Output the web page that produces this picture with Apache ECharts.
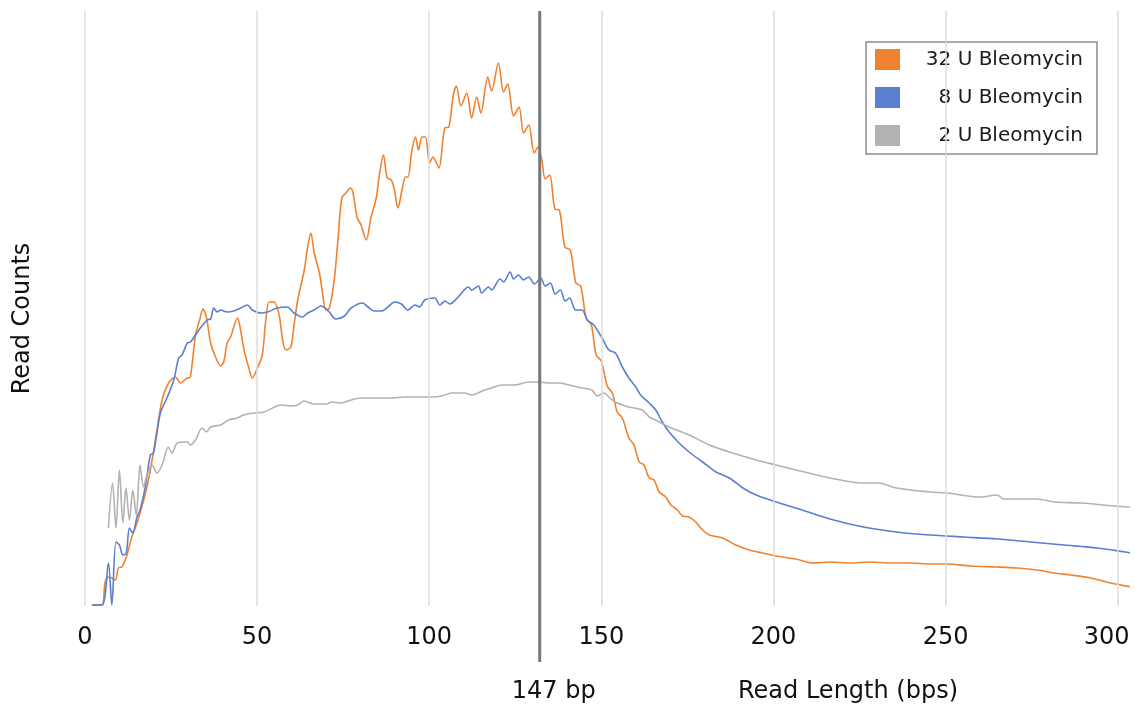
<!DOCTYPE html>
<html>
<head>
<meta charset="utf-8">
<title>Read length distribution</title>
<script src="https://cdn.jsdelivr.net/npm/echarts@6/dist/echarts.min.js"></script>
<style>
  html, body { margin: 0; padding: 0; background: #fff; }
  #main { width: 1135px; height: 713px; }
</style>
</head>
<body>
<div id="main"></div>
<script>
// x tick values (bp) and the reference fragment line
const tickValues = [0, 50, 100, 150, 200, 250, 300];
const refLength = 132.1;
const refLabel = '147 bp';

const seriesNames = ['32 U Bleomycin', '8 U Bleomycin', '2 U Bleomycin'];

// 32 U Bleomycin
const len32 = [2.0, 4.9, 5.8, 6.8, 7.8, 8.8, 9.7, 10.7, 12.2, 13.6, 15.1, 16.5, 18.0, 19.5, 20.9, 22.4, 24.3, 26.3, 27.7, 29.7,
  30.6, 32.1, 33.3, 34.3, 35.3, 36.5, 37.9, 39.4, 40.3, 41.3, 42.3, 44.3, 45.2, 46.2, 47.6, 48.6, 50.1, 51.5, 52.5, 53.5,
  54.9, 56.4, 57.4, 58.3, 59.8, 60.8, 61.8, 63.7, 64.7, 65.6, 66.6, 68.1, 69.0, 70.0, 71.0, 72.4, 73.4, 74.6, 75.8, 77.1,
  77.8, 79.1, 80.2, 81.7, 83.1, 84.6, 85.6, 86.7, 87.8, 89.0, 89.9, 90.9, 92.1, 93.1, 93.8, 95.0, 96.0, 96.9, 97.9, 98.9,
  100.1, 101.1, 102.8, 104.5, 105.7, 107.0, 107.9, 109.2, 110.9, 112.3, 113.8, 115.0, 117.0, 118.1, 120.1, 121.6, 122.8, 124.5, 126.1, 127.4,
  128.9, 130.5, 131.6, 132.7, 133.7, 135.0, 136.5, 137.8, 139.4, 141.0, 142.6, 144.0, 145.6, 147.1, 148.5, 150.0, 151.7, 153.2, 154.6, 156.1,
  158.0, 159.5, 161.0, 162.4, 163.9, 165.3, 166.8, 168.7, 170.2, 172.1, 173.6, 175.5, 177.4, 179.4, 181.4, 185.2, 189.1, 193.0, 196.9, 200.8,
  206.5, 211.5, 216.4, 222.2, 228.0, 233.9, 239.7, 245.5, 250.3, 257.2, 265.0, 270.8, 276.6, 281.5, 286.4, 292.2, 298.0, 303.9];
const cnt32 = [1, 1, 23, 29, 28, 26, 38, 39, 51, 69, 83, 99, 119, 146, 176, 206, 223, 229, 223, 228,
  229, 271, 286, 297, 288, 263, 249, 240, 244, 263, 269, 288, 276, 256, 238, 228, 238, 251, 285, 304,
  304, 291, 266, 256, 259, 283, 306, 336, 359, 373, 353, 333, 313, 296, 298, 326, 363, 408, 413, 418,
  414, 388, 381, 366, 389, 408, 433, 451, 428, 426, 416, 398, 416, 429, 429, 456, 469, 456, 469, 469,
  443, 449, 438, 478, 479, 511, 520, 500, 513, 488, 509, 493, 529, 515, 543, 514, 522, 490, 499, 473,
  481, 453, 459, 446, 427, 431, 397, 396, 359, 356, 323, 320, 288, 281, 251, 245, 220, 213, 194, 188,
  168, 161, 144, 141, 128, 126, 114, 109, 101, 96, 90, 89, 84, 76, 71, 68, 61, 56, 53, 50,
  47, 43, 44, 43, 44, 43, 43, 42, 42, 40, 39, 38, 36, 33, 31, 28, 23, 19];

// 8 U Bleomycin
const len8 = [2.0, 5.0, 6.8, 7.8, 9.0, 10.0, 11.0, 12.0, 12.9, 13.9, 15.1, 16.0, 17.5, 19.0, 19.9, 21.9, 23.8, 25.8, 27.2, 28.2,
  29.7, 30.6, 32.1, 33.5, 35.5, 36.5, 37.4, 38.4, 39.4, 41.3, 43.2, 45.2, 47.2, 48.6, 51.0, 53.0, 55.9, 58.8, 60.7, 63.2,
  64.7, 66.5, 68.6, 70.7, 72.9, 75.4, 77.3, 80.7, 82.2, 84.1, 86.1, 88.0, 89.9, 91.9, 93.8, 95.8, 97.2, 98.7, 101.6, 103.1,
  104.6, 106.0, 108.4, 111.4, 112.3, 114.3, 115.2, 117.2, 118.1, 120.6, 121.6, 123.5, 124.5, 125.9, 127.4, 128.9, 130.6, 132.4, 133.7, 135.2,
  136.6, 138.1, 139.5, 140.8, 142.5, 144.4, 145.9, 147.8, 150.2, 152.2, 154.1, 156.1, 158.0, 160.0, 161.4, 163.9, 165.8, 167.7, 169.7, 172.6,
  175.5, 179.4, 183.3, 187.2, 191.1, 195.0, 200.8, 206.5, 216.4, 226.1, 235.7, 245.5, 255.2, 265.0, 274.7, 284.4, 294.1, 304.0];
const cnt8 = [1, 1, 43, 1, 64, 61, 51, 53, 78, 73, 89, 96, 119, 151, 153, 193, 208, 226, 248, 251,
  263, 264, 271, 278, 286, 287, 298, 294, 296, 294, 295, 298, 301, 296, 293, 294, 298, 299, 293, 289,
  293, 296, 300, 295, 287, 290, 298, 303, 299, 295, 295, 299, 304, 302, 296, 301, 299, 306, 308, 301,
  305, 302, 309, 319, 316, 320, 313, 319, 316, 327, 324, 334, 327, 331, 326, 329, 322, 328, 320, 323,
  312, 316, 305, 308, 296, 296, 286, 281, 268, 256, 253, 239, 228, 219, 211, 203, 196, 184, 174, 163,
  154, 144, 134, 128, 118, 111, 104, 98, 87, 79, 74, 71, 69, 67, 64, 61, 58, 53];

// 2 U Bleomycin
const len2 = [6.8, 8.0, 9.0, 10.0, 11.0, 11.9, 12.9, 13.9, 14.9, 16.0, 17.0, 18.0, 19.5, 20.9, 22.4, 24.2, 25.3, 26.8, 29.7, 30.6,
  32.1, 34.0, 35.3, 36.5, 39.4, 41.7, 44.2, 46.1, 49.0, 52.0, 54.5, 56.9, 59.8, 61.8, 63.7, 66.5, 70.5, 71.5, 74.4, 77.3,
  80.2, 85.1, 89.0, 92.8, 96.8, 100.6, 103.6, 106.5, 110.3, 112.3, 116.1, 118.1, 121.0, 124.9, 128.9, 131.9, 134.8, 137.7, 140.6, 144.4,
  147.3, 148.8, 150.8, 152.2, 154.0, 158.0, 161.9, 163.9, 165.7, 169.7, 175.5, 181.4, 187.2, 195.0, 200.7, 206.5, 216.4, 226.0, 230.5, 235.7,
  245.5, 250.3, 260.1, 265.0, 266.9, 276.6, 281.5, 289.4, 299.0, 304.0];
const cnt2 = [78, 123, 78, 136, 83, 118, 86, 116, 91, 141, 119, 131, 141, 133, 141, 159, 153, 163, 164, 161,
  166, 178, 174, 179, 181, 186, 188, 191, 193, 194, 198, 201, 200, 201, 205, 202, 202, 204, 203, 206,
  208, 208, 208, 209, 209, 209, 210, 213, 213, 211, 216, 218, 221, 221, 224, 224, 223, 223, 221, 218,
  216, 210, 213, 209, 204, 199, 196, 189, 186, 179, 171, 161, 154, 146, 141, 136, 128, 123, 123, 118,
  114, 113, 109, 111, 107, 107, 104, 103, 100, 99];

const colors = ['#f0822f', '#5a7fd0', '#b2b2b2'];
const fontFamily = '"DejaVu Sans", "Open Sans", sans-serif';

function zip(xs, ys) {
    return xs.map(function (x, i) { return [x, ys[i]]; });
}

function curve(name, xs, ys, color) {
    return {
        name: name,
        type: 'line',
        data: zip(xs, ys),
        smooth: 0.3,
        showSymbol: false,
        symbol: 'none',
        z: 3,
        lineStyle: { color: color, width: 1.6 },
        itemStyle: { color: color }
    };
}

const chart = echarts.init(document.getElementById('main'));

const option = {
    animation: false,
    grid: { left: 85, right: 7, top: 11, bottom: 107, outerBoundsMode: 'none', containLabel: false },
    legend: {
        data: seriesNames,
        orient: 'vertical',
        left: 866,
        top: 42,
        icon: 'rect',
        itemWidth: 25,
        itemHeight: 21,
        itemGap: 17,
        padding: [7, 14, 8, 9],
        borderColor: '#8c8c8c',
        borderWidth: 1.5,
        selectedMode: false,
        formatter: '{t|{name}}',
        textStyle: {
            rich: {
                t: { width: 178, align: 'right', fontSize: 20, fontFamily: fontFamily, color: '#1a1a1a' }
            }
        }
    },
    xAxis: {
        type: 'value',
        min: 0,
        max: 303,
        interval: 50,
        axisLine: { show: false },
        axisTick: { show: false },
        splitLine: { show: false },
        axisLabel: {
            fontSize: 24,
            fontFamily: fontFamily,
            color: '#111',
            margin: 20,
            formatter: function (v) {
                if (tickValues.indexOf(v) < 0) return '';
                // last label kept inside the page
                return v === tickValues[tickValues.length - 1] ? '{r|' + v + '}' : String(v);
            },
            rich: {
                r: { fontSize: 24, fontFamily: fontFamily, color: '#111', padding: [0, 22, 0, 0] }
            }
        }
    },
    yAxis: {
        type: 'value',
        min: 0,
        max: 595,
        axisLine: { show: false },
        axisTick: { show: false },
        axisLabel: { show: false },
        splitLine: { show: false },
        name: 'Read Counts',
        nameLocation: 'middle',
        nameGap: 50,
        nameTextStyle: { fontSize: 24, fontFamily: fontFamily, color: '#111', padding: [0, 20, 0, 0] }
    },
    series: [
        {
            // vertical grid lines
            name: 'grid',
            type: 'line',
            data: [],
            z: 1,
            markLine: {
                silent: true,
                symbol: ['none', 'none'],
                label: { show: false },
                lineStyle: { color: '#dddddd', width: 1.5, type: 'solid' },
                data: tickValues.map(function (v) { return { xAxis: v }; })
            }
        },
        curve(seriesNames[0], len32, cnt32, colors[0]),
        curve(seriesNames[1], len8, cnt8, colors[1]),
        curve(seriesNames[2], len2, cnt2, colors[2])
    ]
};

chart.setOption(option);

// reference line reaches below the plot down to its label
const xLine = chart.convertToPixel({ xAxisIndex: 0 }, refLength);
const yTop = chart.convertToPixel({ yAxisIndex: 0 }, 595);

chart.setOption({
    graphic: [
        {
            type: 'line',
            z: 10,
            shape: { x1: xLine, y1: yTop, x2: xLine, y2: 662 },
            style: { stroke: '#777777', lineWidth: 3 }
        },
        {
            type: 'text',
            x: xLine + 14,
            y: 692,
            style: {
                text: refLabel, fontSize: 24, fontFamily: fontFamily, fill: '#111',
                align: 'center', verticalAlign: 'middle'
            }
        },
        {
            type: 'text',
            x: 848,
            y: 692,
            style: {
                text: 'Read Length (bps)', fontSize: 24, fontFamily: fontFamily, fill: '#111',
                align: 'center', verticalAlign: 'middle'
            }
        }
    ]
});
</script>
</body>
</html>
